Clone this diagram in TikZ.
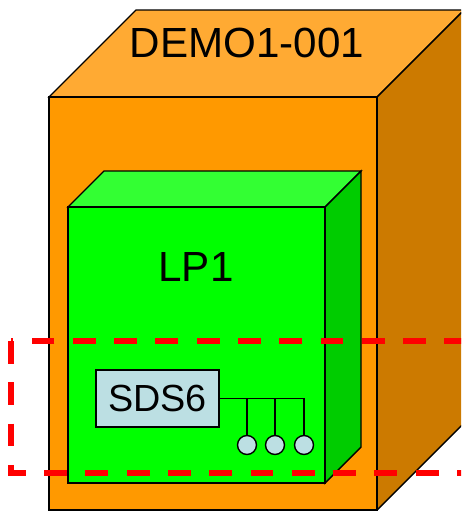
\documentclass[tikz,border=0pt]{standalone}
\usepackage{fontspec}
\setmainfont{Liberation Sans}
\usepackage{xcolor}
\usetikzlibrary{positioning}

\definecolor{orfront}{HTML}{FF9900}
\definecolor{ortop}{HTML}{FFAA33}
\definecolor{orside}{HTML}{CC7A00}
\definecolor{grfront}{HTML}{00FF00}
\definecolor{grtop}{HTML}{33FF33}
\definecolor{grside}{HTML}{00CC00}
\definecolor{devblue}{HTML}{BCDFE3}

\begin{document}
\begin{tikzpicture}[
    x=0.02cm, y=-0.02cm,
    face/.style={draw, line width=0.8pt, line join=miter},
    lbl/.style={font=\fontsize{24}{28}\selectfont, inner sep=0pt},
    dev/.style={draw, line width=0.8pt, fill=devblue, minimum width=2.46cm, minimum height=1.14cm,
      inner sep=0pt, font=\fontsize{21.5}{25}\selectfont},
    port/.style={draw, line width=0.8pt, fill=devblue, circle, minimum size=0.38cm, inner sep=0pt},
    wire/.style={line width=0.8pt},
    zone/.style={draw=red, line width=3pt, dash pattern=on 13pt off 10.5pt}
  ]
    \useasboundingbox (0,0) rectangle (461,511);
    \clip (0,0) rectangle (461,511);

    %% ---- Outer cabinet ----
    \filldraw[face, fill=ortop]  (49,97) -- (136,10) -- (464,10) -- (377,97) -- cycle;
    \filldraw[face, fill=orside] (377,97) -- (464,10) -- (464,423) -- (377,510) -- cycle;
    \filldraw[face, fill=orfront] (49,97) rectangle (377,510);
    \node[lbl] (cab) at (247,43) {DEMO1-001};

    %% ---- Inner board ----
    \filldraw[face, fill=grtop]  (68,207) -- (104,171) -- (361,171) -- (325,207) -- cycle;
    \filldraw[face, fill=grside] (325,207) -- (361,171) -- (361,447) -- (325,483) -- cycle;
    \filldraw[face, fill=grfront] (68,207) rectangle (325,483);
    \node[lbl] (lp) at (196,267) {LP1};

    %% ---- Device with three ports ----
    \node[dev] (sds) at (157.5,398.5) {SDS6};
    \foreach \i/\px in {1/247, 2/275, 3/304} {
      \node[port] (p\i) at (\px,445) {};
      \draw[wire] (sds.east) -| (p\i.north);
    }

    %% ---- Dashed zone ----
    \draw[zone] (11,341) rectangle (520,473);
  \end{tikzpicture}
\end{document}
